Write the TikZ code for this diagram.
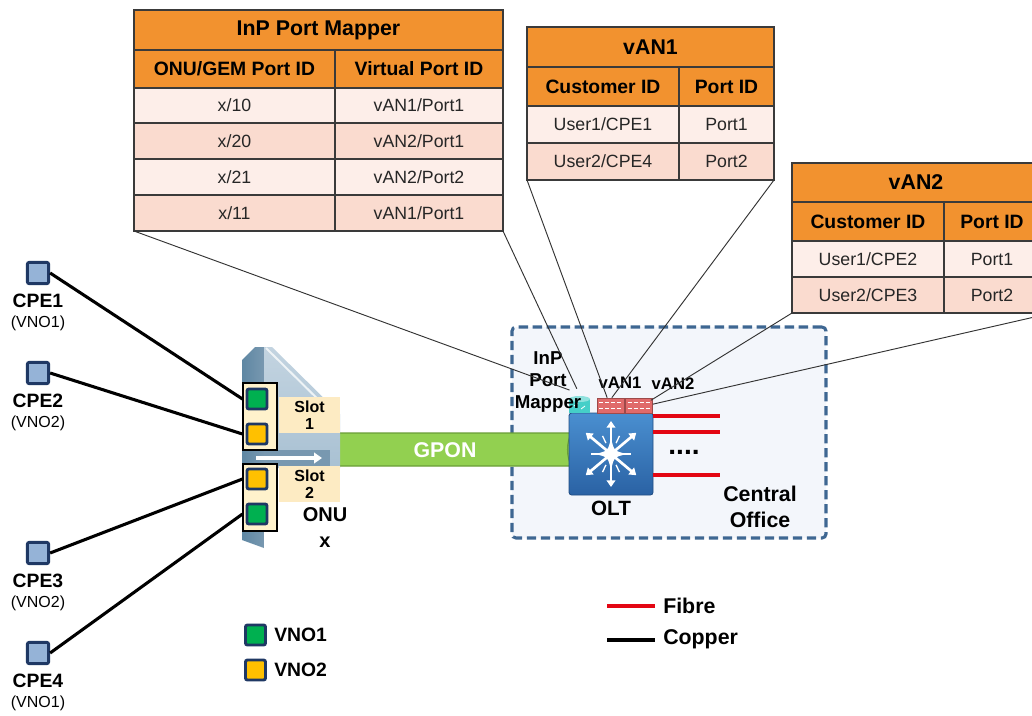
\documentclass[tikz,border=0pt]{standalone}
\usepackage{fontspec}
\setmainfont{Liberation Sans}
\usetikzlibrary{arrows.meta}

\definecolor{orangeT}{HTML}{F2922F}
\definecolor{rowA}{HTML}{FDEEE9}
\definecolor{rowB}{HTML}{FADBCF}
\definecolor{gridc}{HTML}{3A3A3A}
\definecolor{navy}{HTML}{1F3864}
\definecolor{cpeblue}{HTML}{95B3D7}
\definecolor{vgreen}{HTML}{00B050}
\definecolor{vorange}{HTML}{FFC000}
\definecolor{cream}{HTML}{FFF2CC}
\definecolor{slotbg}{HTML}{FDEBC3}
\definecolor{gpon}{HTML}{92D050}
\definecolor{gponrim}{HTML}{6A9E36}
\definecolor{codash}{HTML}{3E6792}
\definecolor{cobg}{HTML}{F3F6FB}
\definecolor{fibre}{HTML}{E30613}
\definecolor{oltdark}{HTML}{2A62A4}
\definecolor{oltlight}{HTML}{4A8FD0}
\definecolor{vanred}{HTML}{E06A6A}
\definecolor{cyl}{HTML}{45CFC8}
\definecolor{onudark}{HTML}{5F87A3}
\definecolor{onumid}{HTML}{7898B0}
\definecolor{onulight}{HTML}{A9C1D3}

% table cell: name, x1, y1, x2, y2, fill, text style, text
\newcommand\tcell[8]{%
  \filldraw[fill=#6, draw=gridc, line width=0.8pt] (#2,#3) rectangle (#4,#5);
  \node[#7] (#1) at ({(#2+#4)/2},{(#3+#5)/2}) {#8};}

\tikzset{
  ttl/.style={font=\bfseries\fontsize{16}{19}\selectfont},
  hdr/.style={font=\bfseries\fontsize{14.5}{17}\selectfont},
  dat/.style={font=\fontsize{13.3}{15}\selectfont, text=black!85},
  lbl/.style={font=\bfseries\fontsize{15}{19}\selectfont, align=center, inner sep=0pt},
  cpebox/.style={draw=navy, fill=cpeblue, line width=2.2pt, rounded corners=1.5pt,
    minimum size=16pt, inner sep=0pt},
  port/.style={draw=navy, line width=2.2pt, rounded corners=1.5pt,
    minimum size=15pt, inner sep=0pt},
  panel/.style={draw=black, fill=cream, line width=0.8pt, inner sep=0pt,
    minimum width=34*0.75pt, minimum height=67*0.75pt},
  slotlbl/.style={fill=slotbg, inner sep=0pt, minimum width=61*0.75pt,
    minimum height=36*0.75pt, align=center,
    font=\bfseries\fontsize{12}{13}\selectfont},
  vanbox/.style={fill=vanred, draw=vanred!70!black, line width=0.5pt,
    minimum width=27*0.75pt, minimum height=15*0.75pt, inner sep=0pt},
  copper/.style={line width=2.3pt, black},
  fibreline/.style={line width=2.3pt, fibre},
  callout/.style={line width=0.7pt, black!80},
}

\begin{document}
\begin{tikzpicture}[x=0.75pt, y=-0.75pt]
\fill[white] (0,0) rectangle (1032,715);
\useasboundingbox (0,0) rectangle (1032,715);

% ---------- central office area ----------
\node[draw=codash, fill=cobg, line width=2.3pt, dash pattern=on 7pt off 3.5pt,
  rounded corners=3pt, minimum width=314*0.75pt, minimum height=211*0.75pt,
  inner sep=0pt] (co) at (669,432.5) {};
\node[lbl, font=\bfseries\fontsize{16}{20}\selectfont] (colbl) at (760,507) {Central\\Office};

% ---------- tables ----------
\tcell{inpT}{134}{10}{503}{50}{orangeT}{ttl}{InP Port Mapper}
\tcell{inpH1}{134}{50}{335}{88}{orangeT}{hdr}{ONU/GEM Port ID}
\tcell{inpH2}{335}{50}{503}{88}{orangeT}{hdr}{Virtual Port ID}
\tcell{inpA1}{134}{88}{335}{123}{rowA}{dat}{x/10}
\tcell{inpA2}{335}{88}{503}{123}{rowA}{dat}{vAN1/Port1}
\tcell{inpB1}{134}{123}{335}{159}{rowB}{dat}{x/20}
\tcell{inpB2}{335}{123}{503}{159}{rowB}{dat}{vAN2/Port1}
\tcell{inpC1}{134}{159}{335}{195}{rowA}{dat}{x/21}
\tcell{inpC2}{335}{159}{503}{195}{rowA}{dat}{vAN2/Port2}
\tcell{inpD1}{134}{195}{335}{231}{rowB}{dat}{x/11}
\tcell{inpD2}{335}{195}{503}{231}{rowB}{dat}{vAN1/Port1}

\tcell{vaT}{527}{27}{774}{67}{orangeT}{ttl}{vAN1}
\tcell{vaH1}{527}{67}{679}{106}{orangeT}{hdr}{Customer ID}
\tcell{vaH2}{679}{67}{774}{106}{orangeT}{hdr}{Port ID}
\tcell{vaA1}{527}{106}{679}{143}{rowA}{dat}{User1/CPE1}
\tcell{vaA2}{679}{106}{774}{143}{rowA}{dat}{Port1}
\tcell{vaB1}{527}{143}{679}{180}{rowB}{dat}{User2/CPE4}
\tcell{vaB2}{679}{143}{774}{180}{rowB}{dat}{Port2}

\tcell{vbT}{792}{163}{1040}{202}{orangeT}{ttl}{vAN2}
\tcell{vbH1}{792}{202}{944}{241}{orangeT}{hdr}{Customer ID}
\tcell{vbH2}{944}{202}{1040}{241}{orangeT}{hdr}{Port ID}
\tcell{vbA1}{792}{241}{944}{277}{rowA}{dat}{User1/CPE2}
\tcell{vbA2}{944}{241}{1040}{277}{rowA}{dat}{Port1}
\tcell{vbB1}{792}{277}{944}{313}{rowB}{dat}{User2/CPE3}
\tcell{vbB2}{944}{277}{1040}{313}{rowB}{dat}{Port2}

% ---------- GPON tube ----------
\filldraw[fill=gpon, draw=gponrim, line width=0.8pt]
  (334,433) -- (572,433) -- (572,466) -- (334,466)
  .. controls (327,460) and (327,439) .. (334,433) -- cycle;
\draw[gponrim, line width=0.8pt] (572,433) .. controls (566,440) and (566,459) .. (572,466);
\node[font=\bfseries\fontsize{16}{19}\selectfont, text=white] (gponlbl) at (445,450) {GPON};

% ---------- OLT ----------
\node[draw=oltdark!80!black, top color=oltlight, bottom color=oltdark, line width=0.6pt,
  rounded corners=2pt, minimum width=84*0.75pt, minimum height=82*0.75pt,
  inner sep=0pt] (olt) at (611,454) {};
\begin{scope}[shift={(olt.center)}]
  \foreach \a in {90,40,-40,-90,140,220}
    \draw[white, line width=2pt, -{Triangle[length=5pt,width=6.5pt]}] (0,0) -- (\a:33);
  \foreach \a in {65,0,-65,-115,180,115}
    \draw[white, line width=1pt] (\a:12) -- (\a:20);
  \fill[white] (0,-16) .. controls (3,-3) .. (16,0) .. controls (3,3) .. (0,16)
    .. controls (-3,3) .. (-16,0) .. controls (-3,-3) .. (0,-16) -- cycle;
\end{scope}
\node[lbl, font=\bfseries\fontsize{15.5}{18}\selectfont] (oltlbl) at (611,508) {OLT};

% devices on top of the OLT
\node[inner sep=0pt, minimum width=21*0.75pt, minimum height=16*0.75pt] (mapdev) at (579.5,405) {};
\fill[cyl] (569,399) rectangle (590,413);
\fill[cyl!60!white] (579.5,399) ellipse (10.5 and 3);
\draw[white, line width=0.6pt] (574,406) -- (578,403) (581,409) -- (585,406);
\node[vanbox] (van1dev) at (610.5,405.5) {};
\node[vanbox] (van2dev) at (639,405.5) {};
\foreach \xa/\xb in {599/622,627.5/650.5}{
  \draw[white, line width=0.9pt, dash pattern=on 3pt off 1.5pt] (\xa,402.5) -- (\xb,402.5);
  \draw[white, line width=0.9pt, dash pattern=on 3pt off 1.5pt] (\xa,408.5) -- (\xb,408.5);
}
\node[lbl, font=\bfseries\fontsize{14}{16.5}\selectfont] (maplbl) at (548,382) {InP\\Port\\Mapper};
\node[lbl, font=\bfseries\fontsize{12.5}{14}\selectfont] (van1lbl) at (620,383) {vAN1};
\node[lbl, font=\bfseries\fontsize{12.5}{14}\selectfont] (van2lbl) at (673,384) {vAN2};

% fibres leaving the OLT
\coordinate (f1) at (720,416);
\coordinate (f2) at (720,432);
\coordinate (f3) at (720,475);
\draw[fibreline] (f1 -| olt.east) -- (f1);
\draw[fibreline] (f2 -| olt.east) -- (f2);
\draw[fibreline] (f3 -| olt.east) -- (f3);
\node[font=\bfseries\fontsize{21}{24}\selectfont] (dots) at (684,452) {....};

% ---------- callout lines ----------
\coordinate (inpBL) at (134,231);
\coordinate (inpBR) at (503,231);
\coordinate (vaBL) at (527,180);
\coordinate (vaBR) at (774,180);
\coordinate (vbBL) at (792,313);
\coordinate (vbBR) at (1052,313);
\draw[callout] (inpBL) -- ([xshift=-7.5pt,yshift=5pt]mapdev.north);
\draw[callout] (inpBR) -- ([xshift=-2pt,yshift=6pt]mapdev.north);
\draw[callout] (vaBL) -- ([xshift=-2.5pt]van1dev.north);
\draw[callout] (vaBR) -- ([xshift=1pt]van1dev.north);
\draw[callout] (vbBL) -- ([xshift=-1.5pt,yshift=-2pt]van2dev.north east);
\draw[callout] (vbBR) -- ([yshift=1pt]van2dev.east);

% ---------- ONU ----------
\shade[top color=onulight!70!white, bottom color=onulight]
  (255,347) -- (272,347) -- (340,414) -- (340,468) -- (262,468) -- cycle;
\draw[white!80!onulight, line width=1.5pt] (266,348) -- (336,417);
\shade[left color=onudark, right color=onumid]
  (242,360) -- (255,347) -- (264,347) -- (264,548) -- (242,540) -- cycle;
\fill[onumid] (264,450) rectangle (330,466);
\draw[white, line width=3pt, -{Triangle[length=6pt,width=8pt]}] (256,458) -- (322,458);

\node[panel] (panel1) at (260,416.5) {};
\node[panel] (panel2) at (260,497.5) {};
\node[port, fill=vgreen] (p1g) at (257,399) {};
\node[port, fill=vorange] (p1o) at (257,434) {};
\node[port, fill=vorange] (p2o) at (257,479) {};
\node[port, fill=vgreen] (p2g) at (257,514) {};
\node[slotlbl] (slot1) at (309.5,415) {Slot\\1};
\node[slotlbl] (slot2) at (309.5,484) {Slot\\2};
\node[lbl, font=\bfseries\fontsize{15}{19.5}\selectfont] (onulbl) at (325,528) {ONU\\x};

% ---------- CPEs ----------
\node[cpebox] (cpe1) at (38,273) {};
\node[cpebox] (cpe2) at (38,373) {};
\node[cpebox] (cpe3) at (38,553) {};
\node[cpebox] (cpe4) at (38,653) {};
\foreach \n/\y/\v in {1/273/VNO1,2/373/VNO2,3/553/VNO2,4/653/VNO1}{
  \node[font=\bfseries\fontsize{14.5}{16}\selectfont, inner sep=0pt] (cpe\n name) at (38,\y+28) {CPE\n};
  \node[font=\fontsize{12}{14}\selectfont, inner sep=0pt] (cpe\n vno) at (38,\y+50) {(\v)};
}
\draw[copper] (cpe1.east) -- (p1g.west -| panel1.west);
\draw[copper] (cpe2.east) -- (p1o.west -| panel1.west);
\draw[copper] (cpe3.east) -- (p2o.west -| panel2.west);
\draw[copper] (cpe4.east) -- (p2g.west -| panel2.west);

% ---------- legends ----------
\node[port, fill=vgreen] (leg1) at (255.5,635) {};
\node[port, fill=vorange] (leg2) at (255.5,670) {};
\node[anchor=west, inner sep=0pt, font=\bfseries\fontsize{14.5}{17}\selectfont] (leg1t) at (274,635) {VNO1};
\node[anchor=west, inner sep=0pt, font=\bfseries\fontsize{14.5}{17}\selectfont] (leg2t) at (274,670) {VNO2};

\coordinate (fa) at (607,606);
\coordinate (fb) at (655,606);
\coordinate (ca) at (607,640);
\coordinate (cb) at (655,640);
\draw[fibreline] (fa) -- (fb);
\draw[copper] (ca) -- (cb);
\node[anchor=west, inner sep=0pt, font=\bfseries\fontsize{16}{19}\selectfont] (fibt) at (663,606) {Fibre};
\node[anchor=west, inner sep=0pt, font=\bfseries\fontsize{16}{19}\selectfont] (copt) at (663,639) {Copper};
\end{tikzpicture}
\end{document}
